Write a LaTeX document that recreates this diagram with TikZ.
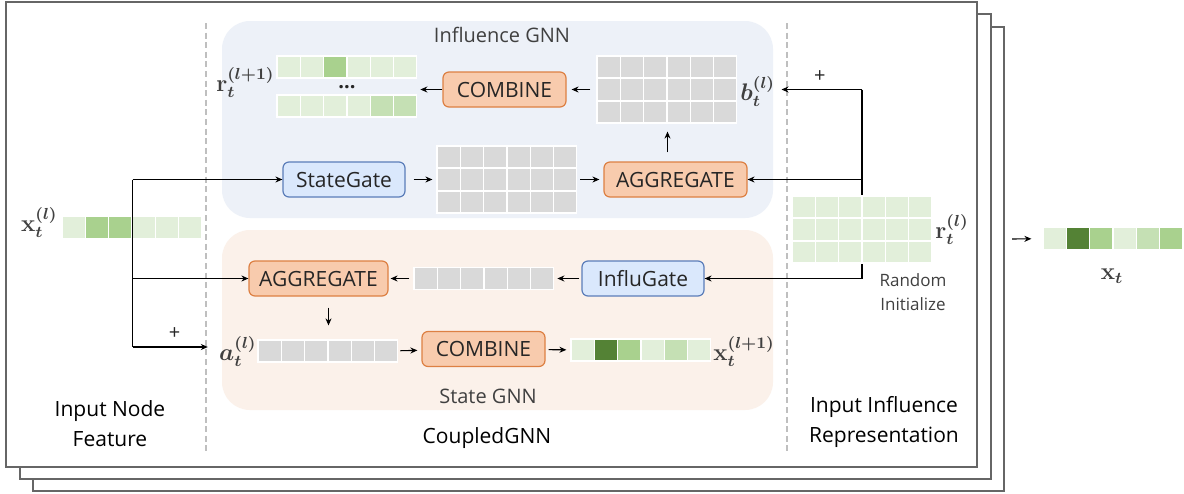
\documentclass[tikz,border=0pt]{standalone}
\usepackage[no-math]{fontspec}
\setmainfont{Open Sans}
\usepackage{amsmath}
\usepackage{bm}
\usepackage{tikz}
\usetikzlibrary{arrows.meta,calc}
\definecolor{palegrn}{HTML}{E2EFDA}
\definecolor{softgrn}{HTML}{C5E0B4}
\definecolor{midgrn}{HTML}{A9D18E}
\definecolor{darkgrn}{HTML}{548235}
\definecolor{cellgray}{HTML}{D9D9D9}
\definecolor{infbg}{HTML}{EDF1F8}
\definecolor{statebg}{HTML}{FBF1EA}
\definecolor{opfill}{HTML}{F8CBAD}
\definecolor{opdraw}{HTML}{DD8043}
\definecolor{gatefill}{HTML}{DAE8FC}
\definecolor{gatedraw}{HTML}{5B7DB9}
\definecolor{framegray}{HTML}{666666}
\definecolor{dashgray}{HTML}{BFBFBF}
\definecolor{ink}{HTML}{262626}
\definecolor{softink}{HTML}{404040}
\tikzset{
  opbox/.style={draw=opdraw,fill=opfill,line width=0.6pt,rounded corners=3pt,
                minimum height=17.5pt,inner sep=0pt,text=ink,
                font=\fontsize{10.5}{12}\selectfont},
  gatebox/.style={opbox,draw=gatedraw,fill=gatefill},
  cell/.style={draw=white,line width=0.6pt,minimum width=11.65pt,
               minimum height=11pt,inner sep=0pt},
  veclabel/.style={text=softink,inner sep=1pt,font=\large\boldmath},
  partlabel/.style={text=softink,font=\fontsize{10}{12}\selectfont},
  sidelabel/.style={text=black,align=center,font=\fontsize{10.5}{15}\selectfont},
  frame/.style={draw=framegray,fill=white,line width=0.8pt},
  divider/.style={draw=dashgray,line width=1pt,dash pattern=on 3pt off 1.8pt},
  wire/.style={line width=0.55pt},
  flowarr/.style={-{Stealth[length=3.5pt,width=3pt]},line width=0.55pt}
}
\newcommand{\cellrow}[4]{%
  \foreach \c [count=\i] in {#4}
    \node[cell,fill=\c] (#1-\i) at ({#2+(\i-0.5)*23.3},#3) {};}

\begin{document}
\begin{tikzpicture}[x=0.5pt,y=-0.5pt]
  \useasboundingbox (0,0) rectangle (1184,493);
  \draw[frame] (33,27) rectangle (1004,491);
  \draw[frame] (20,14) rectangle (991,479);
  \draw[frame] (6,2) rectangle (977,467);
  \fill[infbg,rounded corners=14pt] (222,21) rectangle (773,218);
  \fill[statebg,rounded corners=14pt] (222,230) rectangle (773,410);
  \draw[divider] (206,23) -- (206,452);
  \draw[divider] (787,23) -- (787,452);

  \node[partlabel] (inflab) at (502,35) {Influence GNN};
  \node[partlabel] (statelab) at (488,396) {State GNN};
  \node[sidelabel] (nodefeat) at (110,424) {Input Node\\Feature};
  \node[sidelabel] (coupled) at (487,438) {CoupledGNN};
  \node[sidelabel] (inflrep) at (884,422) {Input Influence\\Representation};
  \node[partlabel,align=center,font=\fontsize{8.5}{12}\selectfont] (randinit) at (913,292) {Random\\Initialize};

  \node[opbox,minimum width=61.5pt] (icomb) at (504.5,89.5) {COMBINE};
  \node[gatebox,minimum width=61pt] (sgate) at (344,179.5) {StateGate};
  \node[opbox,minimum width=71.5pt] (iaggr) at (675.5,179.5) {AGGREGATE};
  \node[opbox,minimum width=69.5pt] (saggr) at (318.5,278.5) {AGGREGATE};
  \node[gatebox,minimum width=61pt] (igate) at (643,278.5) {InfluGate};
  \node[opbox,minimum width=61.5pt] (scomb) at (483.5,349) {COMBINE};

  \coordinate (rtop) at (862,89.5);
  \coordinate (rbot) at (862,278.5);
  \draw[wire] (rtop) -- (rbot);

  \cellrow{rup}{277}{67}{palegrn,palegrn,midgrn,palegrn,palegrn,palegrn}
  \cellrow{rdown}{277}{106}{palegrn,palegrn,palegrn,palegrn,softgrn,softgrn}
  \node[text=ink,inner sep=0pt,font=\bfseries] (dots) at (347,87) {...};
  \foreach \r/\y in {1/67,2/89.5,3/112}{
    \cellrow{bmat-\r}{597}{\y}{cellgray,cellgray,cellgray,cellgray,cellgray,cellgray}
    \cellrow{mid-\r}{437}{\y+90}{cellgray,cellgray,cellgray,cellgray,cellgray,cellgray}
    \cellrow{rmat-\r}{792}{\y+140}{palegrn,palegrn,palegrn,palegrn,palegrn,palegrn}
  }
  \cellrow{xin}{62}{227.5}{palegrn,midgrn,midgrn,palegrn,palegrn,palegrn}
  \cellrow{gvec}{414}{278.5}{cellgray,cellgray,cellgray,cellgray,cellgray,cellgray}
  \cellrow{avec}{258}{351}{cellgray,cellgray,cellgray,cellgray,cellgray,cellgray}
  \cellrow{xnext}{571}{350}{palegrn,darkgrn,midgrn,palegrn,softgrn,palegrn}
  \cellrow{xout}{1043}{238.5}{palegrn,darkgrn,midgrn,palegrn,softgrn,midgrn}

  \node[veclabel,anchor=east] (xlab) at (60,222) {$\mathbf{x}_t^{(l)}$};
  \node[veclabel,anchor=east] (rnextlab) at (277,82) {$\mathbf{r}_t^{(l+1)}$};
  \node[veclabel,anchor=west] (blab) at (738,91) {$b_t^{(l)}$};
  \node[veclabel,anchor=west] (rlab) at (933,229) {$\mathbf{r}_t^{(l)}$};
  \node[veclabel,anchor=east] (alab) at (259,351) {$a_t^{(l)}$};
  \node[veclabel,anchor=west] (xnextlab) at (711,351) {$\mathbf{x}_t^{(l+1)}$};
  \node[veclabel] (xoutlab) at (1112,276) {$\mathbf{x}_t$};

  \coordinate (xtop) at (xin-3.east |- sgate.west);
  \coordinate (xbot) at (xin-3.east |- 0,347);
  \draw[wire] (xtop) -- (xbot);
  \draw[flowarr] (xtop) -- (sgate);
  \draw[flowarr] (xin-3.east |- saggr.west) -- (saggr);
  \draw[flowarr,shorten >=4.5pt] (xbot) -- node[above,text=ink]{+} (alab.west |- xbot);

  \draw[flowarr,shorten >=1.5pt] (icomb) -- (icomb -| rup-6.east);
  \draw[flowarr,shorten <=3pt,shorten >=2.5pt] (bmat-2-1) -- (icomb);
  \draw[flowarr,shorten <=4pt,shorten >=2pt] (sgate) -- (mid-2-1);
  \draw[flowarr,shorten <=1.5pt,shorten >=2pt] (mid-2-6) -- (iaggr);
  \draw[flowarr,shorten <=4.5pt,shorten >=4pt] (bmat-3-3.south east |- iaggr.north) -- (bmat-3-3.south east);
  \draw[flowarr,shorten >=2pt] (rtop) -- node[above,text=ink]{+} (blab.east |- rtop);
  \draw[flowarr] (rtop |- iaggr) -- (iaggr);
  \draw[flowarr] (rbot) -- (igate);
  \draw[flowarr,shorten <=1pt,shorten >=1.5pt] (igate) -- (gvec-6);
  \draw[flowarr,shorten <=2pt,shorten >=1pt] (gvec-1) -- (saggr);
  \draw[flowarr,shorten <=5.5pt,shorten >=7pt] (avec-3.north east |- saggr.south) -- (avec-3.north east);
  \draw[flowarr,shorten <=1pt,shorten >=2pt] (avec-6) -- (scomb);
  \draw[flowarr,shorten <=1.5pt,shorten >=2pt] (scomb) -- (xnext-1);

  \coordinate (outstart) at (1012,239);
  \draw[flowarr,shorten >=5.5pt] (outstart) -- (xout-1);
\end{tikzpicture}
\end{document}
